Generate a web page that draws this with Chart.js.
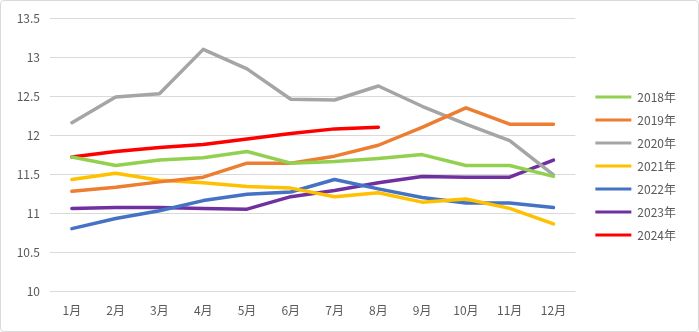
<!DOCTYPE html>
<html><head><meta charset="utf-8">
<script src="https://cdn.jsdelivr.net/npm/chart.js@4/dist/chart.umd.min.js"></script>
<style>
html,body{margin:0;padding:0;background:#fff;}
#wrap{position:absolute;left:0;top:0;width:697px;height:330px;border:1px solid #d9d9d9;border-radius:4px;overflow:hidden;}
canvas{display:block;}
</style></head><body>
<div id="wrap"><canvas id="c" width="697" height="330"></canvas></div>
<script>
const months = ['1月','2月','3月','4月','5月','6月','7月','8月','9月','10月','11月','12月'];
const seriesNames = ['2018年','2019年','2020年','2021年','2022年','2023年','2024年'];
const v2018 = [11.72,11.61,11.68,11.71,11.79,11.64,11.66,11.70,11.75,11.61,11.61,11.47];
const v2019 = [11.28,11.33,11.40,11.46,11.64,11.64,11.73,11.87,12.10,12.35,12.14,12.14];
const v2020 = [12.16,12.49,12.53,13.10,12.85,12.46,12.45,12.63,12.37,12.14,11.93,11.49];
const v2021 = [11.43,11.51,11.42,11.39,11.34,11.32,11.21,11.26,11.14,11.18,11.06,10.86];
const v2022 = [10.80,10.93,11.03,11.16,11.24,11.27,11.43,11.31,11.20,11.13,11.13,11.07];
const v2023 = [11.06,11.07,11.07,11.06,11.05,11.21,11.29,11.39,11.47,11.46,11.46,11.68];
const v2024 = [11.72,11.79,11.84,11.88,11.95,12.02,12.08,12.10];
const colors = ['#92D050','#ED7D31','#A5A5A5','#FFC000','#4472C4','#7030A0','#FF0000'];
const allValues = [v2018,v2019,v2020,v2021,v2022,v2023,v2024];

const font = {family:"'Noto Sans CJK SC','Noto Sans',sans-serif", size:12};
new Chart(document.getElementById('c'), {
  type:'line',
  data:{
    labels: months,
    datasets: allValues.map((vals,i)=>({
      label: seriesNames[i], data: vals,
      borderColor: colors[i], backgroundColor: colors[i],
      borderWidth: 3.5, pointRadius: 0, tension: 0,
      borderCapStyle:'round', borderJoinStyle:'round'
    }))
  },
  options:{
    responsive:false, animation:false,
    layout:{padding:{top:10,left:4,right:12,bottom:10}},
    plugins:{
      tooltip:{enabled:false},
      legend:{
        position:'right',
        labels:{
          font: font, color:'#595959',
          boxWidth:36, boxHeight:3, padding:11,
          generateLabels(chart){
            return Chart.defaults.plugins.legend.labels.generateLabels(chart).map(l=>({...l, lineWidth:0}));
          }
        }
      }
    },
    scales:{
      x:{
        offset:true,
        grid:{display:false, drawTicks:false},
        border:{display:false},
        ticks:{font:font, color:'#595959', padding:12},
        afterFit:(s)=>{ s.height = 30; }
      },
      y:{
        min:10, max:13.5,
        ticks:{stepSize:0.5, font:font, color:'#595959', padding:10,
               callback:(v)=>String(Math.round(v*10)/10)},
        grid:{color:'#d9d9d9', drawTicks:false},
        border:{display:false},
        afterFit:(s)=>{ s.width = 45; }
      },
      gap:{
        position:'right', min:0, max:1,
        grid:{display:false, drawTicks:false},
        ticks:{display:false},
        border:{display:false},
        afterFit:(s)=>{ s.width = 9; }
      }
    }
  }
});
</script>
</body></html>
